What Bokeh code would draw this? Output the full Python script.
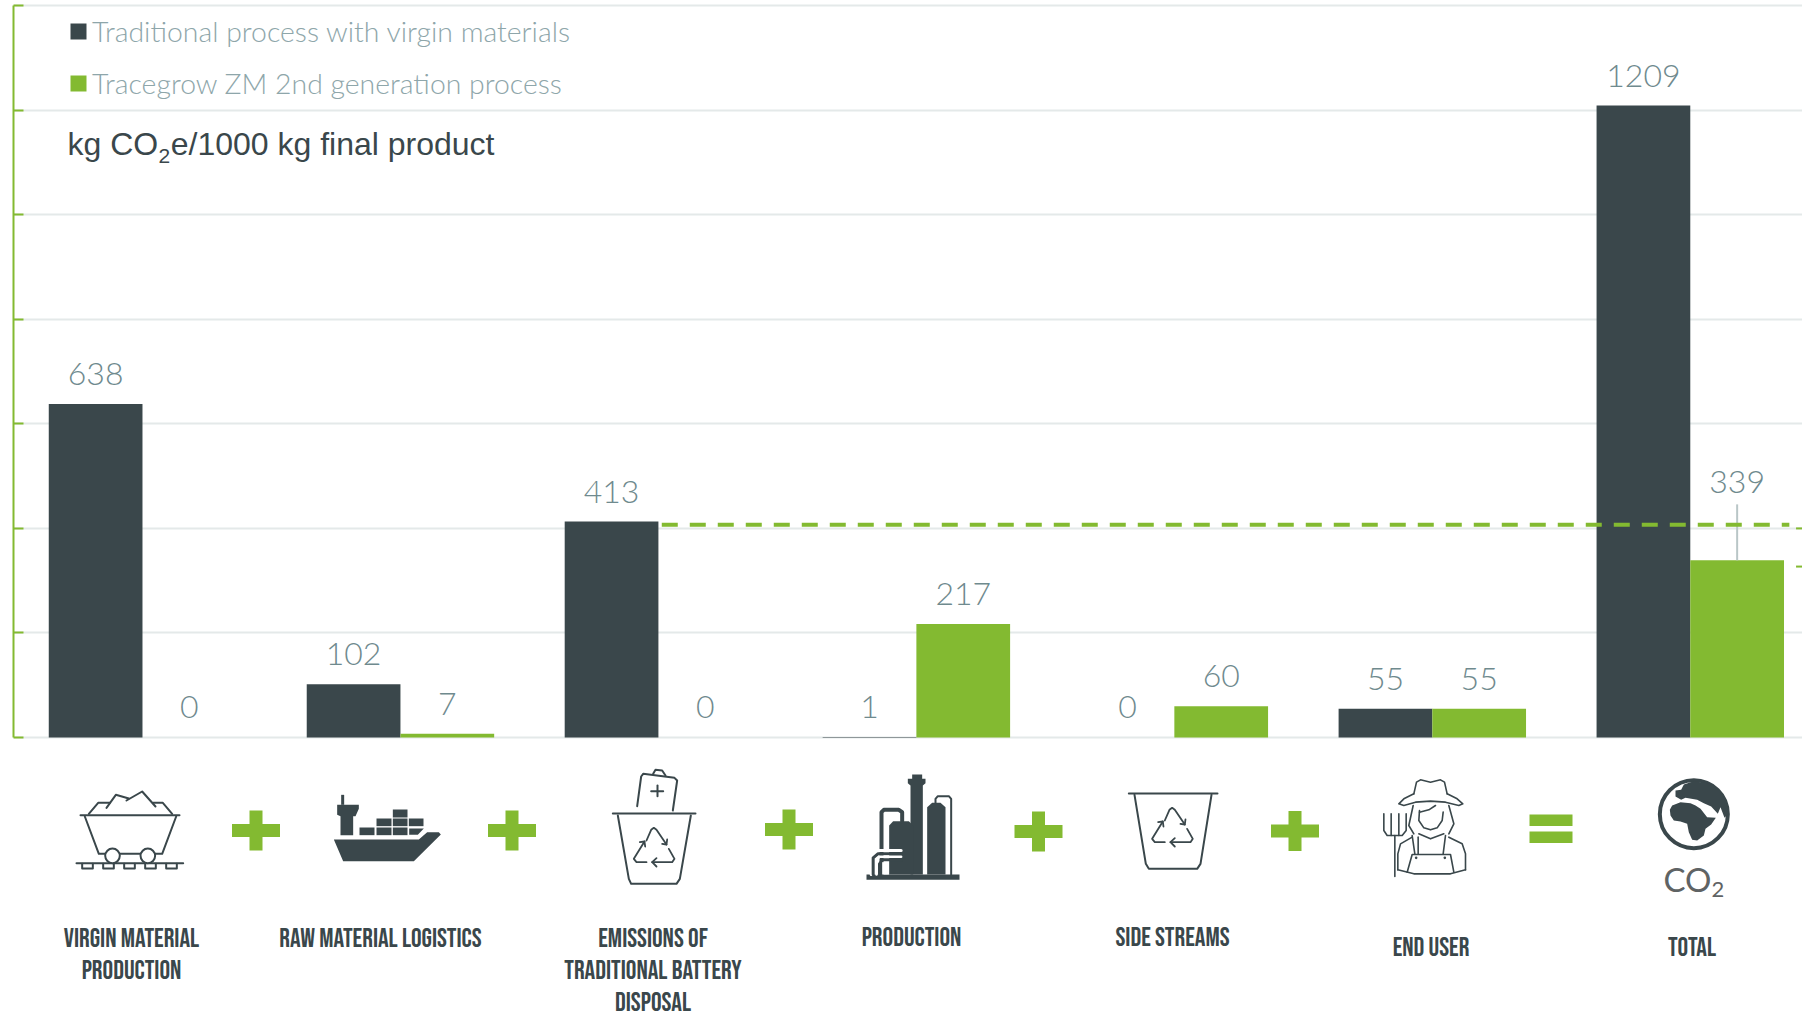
from bokeh.embed import file_html
from bokeh.layouts import column
from bokeh.models import ColumnDataSource, Label, Legend, LegendItem, Range1d, FixedTicker
from bokeh.plotting import figure
from bokeh.resources import INLINE
from bokeh.transform import dodge
from bokeh.core.properties import value

categories = [
    "VIRGIN MATERIAL\nPRODUCTION",
    "RAW MATERIAL LOGISTICS",
    "EMISSIONS OF\nTRADITIONAL BATTERY\nDISPOSAL",
    "PRODUCTION",
    "SIDE STREAMS",
    "END USER",
    "TOTAL",
]
traditional = [638, 102, 413, 1, 0, 55, 1209]
tracegrow = [0, 7, 0, 217, 60, 55, 339]
y_ticks = [0, 200, 400, 600, 800, 1000, 1200, 1400]
series_names = ["Traditional process with virgin materials", "Tracegrow ZM 2nd generation process"]
reduction_level = 407

DARK = "#3a474b"
GREEN = "#83ba31"
GRID = "#e4e9e9"
VALUE_GREY = "#6f8a8e"
LEGEND_GREY = "#8ea6aa"
LIGHT = value("Lato Light")
LABEL_FONT = value("Bebas Neue")

# Upper panel: bars on a category axis that runs past the right edge of the page
idx = list(range(len(categories)))
BAR_W = 0.3633
TOTAL = len(categories) - 1
source = ColumnDataSource(dict(
    idx=idx,
    traditional=traditional,
    tracegrow=tracegrow,
    traditional_text=[str(v) for v in traditional],
    tracegrow_text=[str(v) for v in tracegrow],
))
lifted = ColumnDataSource(dict(idx=idx[:-1], tracegrow=tracegrow[:-1], tracegrow_text=[str(v) for v in tracegrow[:-1]]))

p = figure(
    width=1802, height=740, output_backend="svg", toolbar_location=None,
    x_range=Range1d(-0.5, 6.435), y_range=Range1d(-5.74, 1409.95),
    min_border_left=13, min_border_right=0, min_border_top=0, min_border_bottom=0,
    outline_line_color=None, background_fill_color="white", border_fill_color="white",
)
p.xaxis.visible = False
p.xgrid.visible = False
p.ygrid.ticker = FixedTicker(ticks=y_ticks)
p.ygrid.grid_line_color = GRID
p.ygrid.grid_line_width = 2
p.yaxis.ticker = FixedTicker(ticks=y_ticks)
p.yaxis.bounds = (0, 1400)
p.yaxis.axis_line_color = GREEN
p.yaxis.axis_line_width = 2
p.yaxis.major_tick_line_color = GREEN
p.yaxis.major_tick_line_width = 2
p.yaxis.major_tick_in = 10
p.yaxis.major_tick_out = 0
p.yaxis.minor_tick_line_color = None
p.yaxis.major_label_overrides = {t: "" for t in y_ticks}
p.yaxis.major_label_text_font_size = "1px"
p.yaxis.major_label_standoff = 0

x_dark = dodge("idx", -BAR_W / 2, range=p.x_range)
x_green = dodge("idx", BAR_W / 2, range=p.x_range)

bars_dark = p.vbar(x=x_dark, top="traditional", width=BAR_W, bottom=0, source=source,
                   fill_color=DARK, line_color=None)
bars_green = p.vbar(x=x_green, top="tracegrow", width=BAR_W, bottom=0, source=source,
                    fill_color=GREEN, line_color=None)

# Green offset marks cut by the page edge, and the leader up to the total's label
p.segment(x0=[6.41, 6.41], x1=[6.44, 6.44], y0=[400, 327], y1=[400, 327], line_color=GREEN, line_width=2)
p.segment(x0=[TOTAL + BAR_W / 2], x1=[TOTAL + BAR_W / 2], y0=[tracegrow[-1]], y1=[446],
          line_color="#b9c6c7", line_width=2)
p.line(x=[2.013, 6.384], y=[reduction_level, reduction_level], line_color=GREEN, line_width=4, line_dash="16 12")

label_style = dict(text_font=LIGHT, text_font_size="32px", text_color=VALUE_GREY,
                   text_align="center", text_baseline="alphabetic", y_offset=-30)
p.text(x=x_dark, y="traditional", text="traditional_text", source=source, **label_style)
p.text(x=x_green, y="tracegrow", text="tracegrow_text", source=lifted, **label_style)
p.text(x=[TOTAL + BAR_W / 2], y=[tracegrow[-1]], text=[str(tracegrow[-1])],
       **{**label_style, "y_offset": -78.5})

legend = Legend(
    items=[LegendItem(label=series_names[0], renderers=[bars_dark]),
           LegendItem(label=series_names[1], renderers=[bars_green])],
    location=(55, 640), orientation="vertical",
    background_fill_alpha=0, border_line_color=None, padding=0, margin=0, spacing=18,
    glyph_width=20, glyph_height=20, label_standoff=4,
    label_text_font="Lato Light", label_text_font_size="28.4px", label_text_color=LEGEND_GREY,
)
p.add_layout(legend)

# Unit caption with a lowered "2" set between its two runs
unit_style = dict(x_units="screen", y_units="screen", text_font="Liberation Sans", text_color=DARK)
p.add_layout(Label(x=54, y=578.5, text="kg CO", text_font_size="32px", **unit_style))
p.add_layout(Label(x=145, y=578, text="2", text_font_size="21px", **unit_style))
p.add_layout(Label(x=157.2, y=578.5, text="e/1000 kg final product", text_font_size="32px", **unit_style))

# Lower panel: pictograms and captions, laid out in page pixels
q = figure(
    width=1802, height=274, output_backend="svg", toolbar_location=None,
    x_range=Range1d(13, 1802), y_range=Range1d(1014, 740),
    min_border_left=13, min_border_right=0, min_border_top=0, min_border_bottom=0,
    outline_line_color=None, background_fill_color="white", border_fill_color="white",
)
q.axis.visible = False
q.grid.visible = False


def at(ox, oy, pts):
    """Icon points are drawn at three units per pixel around an icon origin."""
    return [ox + a / 3 for a, _ in pts], [oy + b / 3 for _, b in pts]


def strokes(ox, oy, paths, width=2.0, color=DARK):
    xs, ys = zip(*(at(ox, oy, path) for path in paths))
    q.multi_line(list(xs), list(ys), line_color=color, line_width=width, line_join="round", line_cap="round")


def solids(ox, oy, shapes, color=DARK):
    xs, ys = zip(*(at(ox, oy, shape) for shape in shapes))
    q.patches(list(xs), list(ys), fill_color=color, line_color=None)


def box(x0, y0, x1, y1):
    return [(x0, y0), (x1, y0), (x1, y1), (x0, y1)]


def recycle(ox, oy):
    strokes(ox, oy, [
        [(138, 240), (152, 208), (160, 202), (168, 208), (198, 252)],
        [(185, 250), (198, 252), (200, 237)],
        [(205, 265), (222, 295), (215, 305), (155, 305)],
        [(168, 293), (155, 305), (168, 318)],
        [(138, 305), (108, 305), (100, 295), (132, 243)],
        [(118, 245), (132, 243), (134, 258)],
    ], width=1.8)


# Plus and equals signs
for cx, cy in [(255.5, 830), (511.5, 830), (788.5, 829), (1038, 831), (1294.5, 830.5)]:
    q.patches(
        [[cx - 24, cx - 6.5, cx - 6.5, cx + 6.5, cx + 6.5, cx + 24, cx + 24, cx + 6.5, cx + 6.5, cx - 6.5, cx - 6.5, cx - 24]],
        [[cy - 6.5, cy - 6.5, cy - 20, cy - 20, cy - 6.5, cy - 6.5, cy + 6.5, cy + 6.5, cy + 20, cy + 20, cy + 6.5, cy + 6.5]],
        fill_color=GREEN, line_color=None,
    )
q.patches([[1529, 1572, 1572, 1529], [1529, 1572, 1572, 1529]],
          [[814, 814, 825.5, 825.5], [831, 831, 842.5, 842.5]], fill_color=GREEN, line_color=None)

# Mine cart
strokes(60, 770, [
    [(60, 134), (357, 134)],
    [(73, 138), (115, 250), (135, 250)],
    [(180, 250), (240, 250)],
    [(285, 250), (305, 250), (347, 138)],
    [(48, 278), (368, 278)],
    [(85, 130), (113, 97), (148, 97)],
    [(138, 112), (166, 73), (205, 84)],
    [(198, 90), (245, 63), (285, 108)],
    [(278, 97), (307, 97), (335, 130)],
] + [[(s, 280), (s, 294), (s + 32, 294), (s + 32, 280)] for s in (65, 128, 191, 254, 317)])
wheel_x, wheel_y = at(60, 770, [(156, 256), (262, 256)])
q.circle(wheel_x, wheel_y, radius=7.3, fill_color="white", line_color=DARK, line_width=2)

# Container ship
solids(60, 770, [
    [(820, 207), (1075, 207), (1100, 185), (1135, 185), (1141, 192), (1060, 272), (848, 272)],
    box(997, 117, 1041, 141), box(948, 144, 993, 167), box(997, 144, 1041, 167), box(1045, 144, 1089, 167),
    box(897, 171, 942, 194), box(948, 171, 993, 194), box(997, 171, 1041, 194),
    [(1046, 174), (1090, 174), (1072, 193), (1046, 193)],
    box(842, 73, 851, 103),
    [(830, 103), (895, 103), (895, 115), (885, 137), (878, 137), (878, 194), (840, 194), (840, 137), (830, 133)],
])

# Bin with a battery dropped in
strokes(600, 760, [
    [(37, 159), (285, 159)],
    [(52, 165), (85, 355), (92, 370), (228, 370), (238, 355), (271, 165)],
    [(110, 137), (122, 48), (128, 40), (222, 52), (230, 60), (217, 150)],
    [(158, 40), (165, 28), (185, 30), (195, 45)],
    [(152, 92), (188, 92)],
    [(171, 75), (171, 107)],
])
recycle(600, 760)

# Refinery
solids(600, 760, [
    box(798, 342, 1077, 358),
    [(930, 342), (930, 75), (922, 68), (922, 55), (935, 55), (935, 42), (965, 42), (965, 55), (975, 55),
     (975, 68), (967, 75), (967, 342)],
    [(866, 342), (866, 195), (878, 182), (925, 182), (938, 195), (938, 342)],
    [(980, 342), (980, 140), (995, 127), (1020, 127), (1035, 140), (1035, 342)],
])
strokes(600, 760, [[(1052, 342), (1052, 115), (1045, 107), (1012, 107), (1005, 115), (1005, 127)]], width=2)
strokes(600, 760, [[(843, 342), (843, 155), (850, 148), (895, 148), (905, 155), (905, 182)]], width=4)
strokes(600, 760, [[(812, 342), (812, 288), (828, 270), (902, 270)]], width=3, color="white")
strokes(600, 760, [[(818, 342), (818, 292), (832, 280), (902, 280)]], width=3)
strokes(600, 760, [[(828, 342), (828, 296), (838, 289), (902, 289)]], width=2.5, color="white")
strokes(600, 760, [[(837, 342), (837, 310), (846, 298), (902, 298)]], width=3)
solids(600, 760, [box(845, 305, 865, 342)], color="white")

# Empty recycling bin
strokes(1120, 770, [
    [(25, 69), (291, 69)],
    [(42, 73), (76, 280), (85, 295), (230, 295), (240, 280), (273, 73)],
])
recycle(1118.3, 740)

# Farmer with a pitchfork
strokes(1120, 770, [
    [(880, 70), (888, 35), (900, 28), (930, 35), (960, 28), (972, 35), (980, 70)],
    [(880, 70), (850, 85), (835, 100), (850, 105), (885, 95), (930, 92), (975, 95), (1015, 105), (1027, 100),
     (1010, 85), (980, 70)],
    [(878, 105), (865, 165), (880, 190)],
    [(985, 105), (1000, 160), (985, 190)],
    [(897, 120), (895, 150), (910, 172), (930, 178), (950, 172), (965, 150), (968, 125)],
    [(897, 125), (925, 118), (945, 105)],
    [(895, 190), (930, 205), (970, 190)],
    [(875, 200), (840, 220), (832, 250), (832, 298)],
    [(985, 200), (1025, 220), (1035, 250), (1035, 298)],
    [(875, 195), (883, 250)],
    [(893, 200), (893, 250)],
    [(975, 195), (968, 250)],
    [(860, 305), (875, 252), (990, 252), (1000, 305)],
    [(832, 298), (880, 310), (990, 310), (1035, 298)],
    [(823, 195), (823, 318)],
    [(790, 130), (790, 180), (800, 195), (845, 195), (857, 180), (857, 130)],
    [(812, 130), (812, 195)],
    [(835, 130), (835, 195)],
], width=1.6)
button_x, button_y = at(1120, 770, [(887, 262), (973, 262)])
q.circle(button_x, button_y, radius=1.3, fill_color=DARK, line_color=None)

# Globe with Africa and Eurasia
globe_x, globe_y = at(1640, 760, [(160, 161)])
q.circle(globe_x, globe_y, radius=34, fill_color="white", line_color=DARK, line_width=4)
solids(1640, 760, [
    [(88, 148), (95, 135), (120, 125), (150, 128), (165, 135), (180, 145), (200, 170), (226, 172), (212, 192),
     (195, 205), (190, 225), (170, 240), (155, 238), (145, 215), (140, 190), (120, 183), (100, 180), (90, 165)],
    [(130, 72), (160, 62), (200, 68), (235, 88), (258, 120), (263, 160), (252, 172), (240, 140), (232, 160),
     (212, 138), (190, 128), (170, 118), (135, 112), (122, 118), (105, 108), (105, 90), (122, 88)],
])
q.text(x=[1687], y=[890], text=["CO"], text_font=value("Lato"), text_font_size="33px", text_color="#5f6364",
       text_align="center", text_baseline="alphabetic", y_offset=-12)
q.text(x=[1717.5], y=[897], text=["2"], text_font=value("Lato"), text_font_size="22px", text_color="#5f6364",
       text_align="center", text_baseline="alphabetic", y_offset=-8)

# Captions, one baseline per line
caption_centres = [131, 380, 652.5, 911, 1172, 1430.5, 1691.5]
caption_baselines = [946.7, 946.7, 946.7, 945.7, 945.7, 956, 956]
cap_x, cap_y, cap_text = [], [], []
for name, cx, base in zip(categories, caption_centres, caption_baselines):
    for n, line in enumerate(name.split("\n")):
        cap_x.append(cx)
        cap_y.append(base + 32 * n)
        cap_text.append(line)
q.text(x=cap_x, y=cap_y, text=cap_text, text_font=LABEL_FONT, text_font_size="26.5px", text_color=DARK,
       text_align="center", text_baseline="alphabetic", y_offset=-8.5)

page = column(p, q, spacing=0)
open("out.html", "w").write(file_html(page, INLINE))
